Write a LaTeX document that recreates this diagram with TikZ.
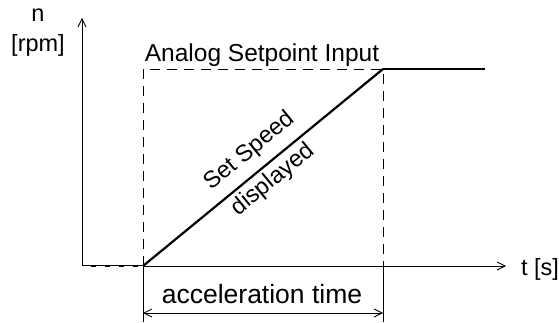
\documentclass[tikz,border=0pt]{standalone}
\usepackage{fontspec}
\setmainfont{Liberation Sans}
\usetikzlibrary{positioning,arrows.meta}

\tikzset{
  thinline/.style={line width=0.8pt},
  speedline/.style={line width=2.2pt},
  guideline/.style={line width=0.8pt, dash pattern=on 10pt off 7pt},
  lbl/.style={font=\fontsize{23.5}{26}\selectfont, inner sep=0pt, anchor=base},
  slopelbl/.style={font=\fontsize{23.5}{26}\selectfont, inner sep=0pt, midway, sloped},
}

\begin{document}
\begin{tikzpicture}[x=1pt,y=-1pt,>={Straight Barb[length=8pt,width=8pt]}]
        \useasboundingbox (0,0) rectangle (559,323);
        \coordinate (O) at (82,266); %原点
        \coordinate (yend) at (82,18); %y軸の先
        \coordinate (xend) at (506,266); %x軸の先
        \coordinate (rampA) at (143,266); %ramp start
        \coordinate (rampB) at (383,69); %ramp end
        \coordinate (rampC) at (485,69); %flat end
        \coordinate (topA) at (143,69);
        \coordinate (dimA) at (143,313);
        \coordinate (dimB) at (383,313);
        \coordinate (extA) at (143,322);
        \coordinate (extB) at (383,322);
        \draw[thinline,->] (O)--(yend); %y軸
        \draw[thinline,->] (O)--(xend); %x軸
        \node[lbl] (lbln) at (38,22) {n};
        \node[lbl] (lblrpm) at (38,52) {[rpm]};
        \node[lbl] (lblt) at (540,275) {t [s]};
        \draw[guideline] (rampA)--(topA)--(rampB)--(rampB|-O); %setpoint box
        \draw[thinline] (rampA)--(extA); %extension
        \draw[thinline] (rampB|-O)--(extB); %extension
        \draw[speedline] (O)--(rampA); %low level
        \draw[white, line width=0.6pt, dash pattern=on 9pt off 5pt] (O)--(rampA);
        \draw[speedline] (rampA)--(rampB)
            node[slopelbl, above=9pt] (lblset) {Set Speed}
            node[slopelbl, below=4pt] (lbldisp) {displayed};
        \draw[speedline] (rampB)--(rampC);
        \node[lbl, font=\fontsize{24.5}{27}\selectfont] (lblinput) at (262,62) {Analog Setpoint Input};
        \draw[thinline,<->] (dimA)--(dimB); %acceleration time
        \node[lbl, font=\fontsize{26.5}{29}\selectfont] (lblacc) at (262,303) {acceleration time};
\end{tikzpicture}
\end{document}
